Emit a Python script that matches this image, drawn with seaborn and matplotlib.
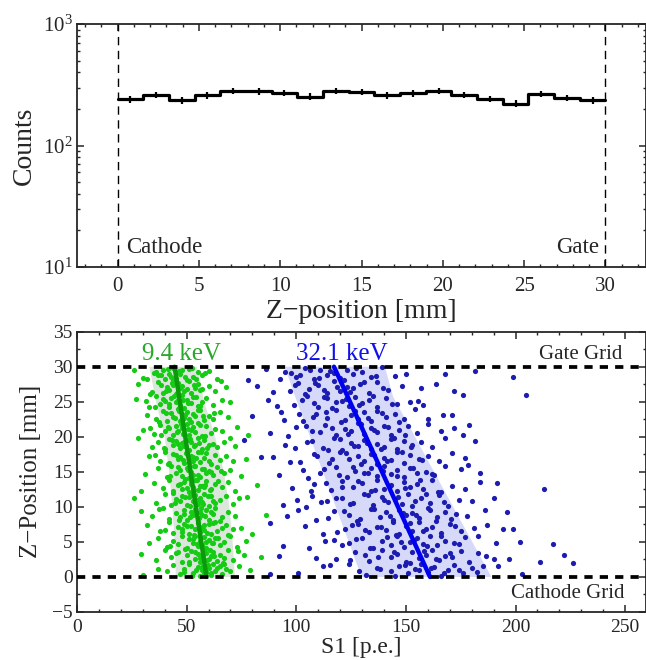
import numpy as np
import pandas as pd
import matplotlib
matplotlib.use("Agg")
import matplotlib.pyplot as plt
import seaborn as sns
from matplotlib.ticker import MultipleLocator, LogLocator, NullFormatter

# ---- top panel: counts per z bin (19 bins between cathode and gate) ----
z_edges = list(np.linspace(0, 30, 20))
z_centers = [(a + b) / 2 for a, b in zip(z_edges[:-1], z_edges[1:])]
counts = [240, 261, 236, 258, 280, 279, 270, 253, 280, 275,
          258, 268, 283, 261, 242, 221, 266, 246, 236]

# ---- bottom panel: S1 vs z for the two lines ----
green_s1 = [
    30, 37, 41, 44, 47, 49, 51, 53, 55, 56, 57, 58, 59, 60, 61, 62, 63, 65, 66, 68, 70, 74, 79,
    29, 36, 40, 43, 46, 48, 50, 52, 54, 55, 56, 57, 58, 59, 60, 61, 62, 64, 65, 67, 69, 71, 76, 84,
    33, 37, 41, 44, 46, 48, 50, 51, 53, 54, 55, 56, 57, 58, 59, 60, 62, 63, 65, 67, 70, 73, 77,
    32, 38, 42, 44, 46, 48, 49, 51, 52, 54, 55, 56, 57, 58, 60, 61, 62, 64, 66, 68, 71, 80,
    29, 34, 39, 42, 45, 47, 49, 50, 52, 53, 54, 55, 56, 57, 59, 60, 62, 63, 66, 69, 72, 86,
    26, 36, 40, 43, 45, 47, 48, 50, 51, 53, 54, 55, 56, 57, 58, 60, 61, 63, 65, 68, 71, 74,
    29, 35, 39, 42, 44, 46, 48, 49, 51, 52, 53, 54, 55, 57, 58, 59, 61, 63, 66, 69, 72, 82,
    31, 37, 41, 43, 45, 47, 48, 50, 51, 52, 53, 54, 56, 57, 59, 60, 62, 64, 67, 70, 75,
    33, 38, 40, 42, 44, 46, 47, 49, 50, 51, 52, 53, 55, 56, 58, 59, 61, 63, 65, 68, 71, 77,
    28, 34, 37, 40, 42, 44, 45, 47, 48, 49, 50, 51, 52, 54, 55, 57, 58, 60, 62, 64, 67, 72,
    30, 35, 38, 40, 42, 44, 45, 46, 48, 49, 50, 51, 53, 54, 55, 57, 59, 61, 63, 66, 73, 78,
    32, 36, 39, 41, 43, 44, 46, 47, 48, 49, 50, 52, 53, 54, 56, 58, 60, 62, 65, 69,
    27, 33, 36, 38, 40, 42, 43, 45, 46, 47, 48, 49, 50, 52, 53, 55, 57, 59, 62, 66, 70,
    28, 34, 37, 39, 41, 42, 44, 45, 46, 47, 48, 49, 51, 52, 54, 55, 57, 60, 63, 68,
    26, 32, 35, 37, 39, 40, 42, 43, 44, 45, 46, 47, 48, 50, 51, 53, 55, 57, 60, 64,
]
green_z = [
    0.3, 1.2, 0.8, 1.7, 0.4, 1.1, 1.9, 0.6, 1.4, 0.2, 1.0, 1.6, 0.7, 1.3, 0.5, 1.8, 0.9, 1.5, 0.4, 1.2, 0.8, 1.6, 1.0,
    3.3, 2.4, 3.8, 2.9, 3.5, 2.2, 3.1, 3.7, 2.6, 3.3, 2.1, 2.8, 3.9, 3.4, 2.5, 3.0, 3.6, 2.3, 3.2, 2.7, 3.8, 2.4, 3.1, 2.9,
    4.9, 5.6, 4.3, 5.2, 4.7, 5.8, 4.1, 5.4, 4.8, 5.9, 4.4, 5.1, 4.6, 5.7, 4.2, 5.3, 4.9, 5.5, 4.5, 5.0, 5.8, 4.3, 5.2,
    7.4, 6.6, 7.9, 6.3, 7.2, 6.8, 7.6, 6.1, 7.3, 6.9, 7.8, 6.4, 7.1, 6.7, 7.5, 6.2, 7.7, 6.5, 7.0, 7.4, 6.8, 6.1,
    9.4, 8.7, 9.8, 8.3, 9.1, 8.6, 9.6, 8.1, 9.3, 8.9, 9.7, 8.4, 9.2, 8.8, 9.5, 8.2, 9.0, 9.9, 8.5, 9.3, 8.7, 8.9,
    11.3, 10.6, 11.8, 10.3, 11.1, 10.8, 11.6, 10.2, 11.4, 10.9, 11.7, 10.4, 11.2, 10.7, 11.9, 10.1, 11.5, 10.6, 11.0, 11.6, 10.4, 11.2,
    12.2, 13.4, 12.7, 13.8, 12.3, 13.1, 12.6, 13.6, 12.1, 13.3, 12.8, 13.9, 12.4, 13.0, 12.9, 13.7, 12.5, 13.2, 12.8, 13.5, 12.2, 13.1,
    14.7, 15.5, 14.2, 15.8, 14.9, 15.2, 14.4, 15.6, 14.1, 15.0, 14.6, 15.9, 14.3, 15.4, 14.8, 15.1, 14.5, 15.7, 14.9, 15.3, 14.4,
    17.2, 16.5, 17.8, 16.3, 17.5, 16.8, 17.1, 16.2, 17.6, 16.9, 17.3, 16.6, 17.9, 16.4, 17.0, 17.7, 16.1, 17.4, 16.7, 17.2, 16.5, 16.9,
    19.9, 18.6, 19.3, 18.2, 19.7, 18.9, 19.4, 18.4, 19.1, 18.7, 19.6, 18.1, 19.2, 18.8, 19.8, 18.3, 19.5, 18.9, 19.0, 18.5, 19.3, 18.7,
    21.0, 20.4, 21.7, 20.8, 21.3, 20.2, 21.6, 20.9, 21.2, 20.5, 21.8, 20.3, 21.4, 20.7, 21.9, 20.1, 21.5, 20.6, 21.1, 20.8, 21.4, 20.3,
    23.1, 22.5, 23.7, 22.2, 23.4, 22.8, 23.9, 22.3, 23.2, 22.7, 23.6, 22.1, 23.3, 22.9, 23.8, 22.4, 23.0, 22.6, 23.5, 22.8,
    25.4, 24.3, 25.8, 24.7, 25.1, 24.2, 25.6, 24.9, 25.3, 24.5, 25.9, 24.1, 25.2, 24.8, 25.7, 24.4, 25.0, 25.5, 24.6, 25.2, 24.9,
    27.5, 26.4, 27.8, 26.2, 27.1, 26.7, 27.4, 26.1, 27.7, 26.9, 27.2, 26.5, 27.9, 26.3, 27.0, 27.6, 26.8, 27.3, 26.6, 27.1,
    29.6, 28.3, 29.1, 28.8, 29.5, 28.2, 29.0, 28.6, 29.8, 28.4, 29.3, 28.9, 29.5, 28.1, 29.7, 28.5, 29.2, 28.8, 29.4, 28.3,
]
# more green events in the dense core
green_s1_core = [
    52.5, 54.2, 56.8, 58.1, 59.7, 61.3, 63.9, 57.4, 48.6, 67.2,
    51.3, 53.6, 55.9, 57.8, 59.2, 60.7, 62.4, 45.2, 66.8, 73.5,
    49.2, 52.7, 54.9, 56.3, 57.5, 58.8, 61.4, 64.3, 42.6, 68.7,
    47.7, 50.3, 53.2, 55.1, 56.4, 57.7, 59.3, 62.8, 40.1, 74.6,
    46.3, 48.8, 51.4, 53.7, 55.5, 56.6, 58.2, 61.1, 65.4, 37.2,
    44.8, 49.4, 51.7, 52.6, 54.8, 55.7, 57.3, 59.6, 62.2, 77.5,
    43.6, 47.2, 50.3, 51.8, 53.5, 54.6, 56.2, 58.4, 60.7, 64.5,
    42.3, 46.1, 49.2, 50.6, 51.9, 53.4, 55.1, 57.8, 61.3, 65.6,
    41.6, 45.3, 48.4, 49.7, 51.4, 52.8, 54.3, 56.7, 60.2, 35.4,
    39.5, 43.4, 46.2, 48.6, 50.4, 51.7, 53.3, 55.6, 59.1, 69.7,
    38.2, 41.7, 45.4, 47.3, 48.5, 50.6, 52.2, 56.1, 58.4, 33.2,
    37.4, 40.6, 44.8, 46.3, 47.6, 49.3, 51.1, 55.2, 57.6, 62.7,
    35.6, 39.2, 41.8, 44.2, 46.7, 48.4, 50.6, 54.1, 56.3, 31.4,
    33.2, 38.1, 40.4, 43.3, 45.6, 47.2, 50.3, 53.4, 56.2, 65.5,
    30.3, 36.2, 38.5, 41.4, 43.6, 46.4, 49.1, 52.4, 54.3, 58.6,
]
green_z_core = [
    0.15, 0.95, 1.45, 0.55, 1.75, 0.25, 1.35, 1.05, 0.65, 1.85,
    2.15, 3.55, 2.75, 3.25, 2.45, 3.85, 2.95, 3.45, 2.05, 3.65,
    4.05, 5.35, 4.65, 5.75, 4.25, 5.05, 4.85, 5.55, 4.45, 5.95,
    6.45, 7.25, 6.05, 7.65, 6.85, 7.35, 6.25, 7.85, 6.65, 7.05,
    8.15, 9.05, 8.55, 9.45, 8.35, 9.85, 8.75, 9.25, 8.05, 9.65,
    10.55, 11.35, 10.15, 11.75, 10.95, 11.05, 10.45, 11.55, 10.85, 11.45,
    12.05, 13.25, 12.65, 13.55, 12.35, 13.85, 12.95, 13.15, 12.45, 13.75,
    14.35, 15.65, 14.05, 15.25, 14.75, 15.85, 14.55, 15.45, 14.95, 15.15,
    16.15, 17.45, 16.75, 17.65, 16.35, 17.15, 16.95, 17.85, 16.55, 17.35,
    18.35, 19.55, 18.95, 19.25, 18.15, 19.75, 18.65, 19.05, 18.45, 19.85,
    20.25, 21.45, 20.65, 21.85, 20.35, 21.15, 20.95, 21.65, 20.05, 21.25,
    22.05, 23.35, 22.75, 23.65, 22.35, 23.05, 22.55, 23.85, 22.95, 23.45,
    24.25, 25.45, 24.65, 25.85, 24.05, 25.25, 24.85, 25.65, 24.45, 25.05,
    26.05, 27.35, 26.55, 27.65, 26.25, 27.05, 26.85, 27.45, 26.65, 27.95,
    28.35, 29.25, 28.75, 29.65, 28.05, 29.45, 28.55, 29.85, 28.25, 29.05,
]

blue_s1 = [
    88, 101, 112, 124, 132, 138, 143, 147, 151, 154, 157, 160, 163, 166, 169, 172, 176, 180, 185, 192, 203, 226,
    92, 118, 127, 133, 139, 143, 146, 150, 153, 156, 159, 162, 165, 168, 171, 175, 179, 183, 190, 197, 211, 222,
    94, 106, 117, 124, 130, 135, 139, 143, 146, 149, 152, 155, 158, 161, 164, 168, 172, 177, 183, 191, 202, 217,
    88, 104, 112, 122, 128, 133, 137, 141, 144, 147, 150, 153, 156, 159, 162, 166, 170, 175, 181, 187, 199,
    96, 101, 109, 117, 124, 129, 134, 138, 141, 144, 147, 150, 153, 156, 160, 164, 168, 173, 178, 186, 196,
    94, 107, 114, 121, 126, 131, 135, 139, 142, 145, 148, 151, 154, 157, 161, 165, 169, 174, 180, 190, 213,
    98, 108, 116, 121, 126, 130, 134, 137, 140, 143, 146, 149, 152, 155, 158, 162, 166, 171, 177, 184,
    92, 103, 111, 118, 123, 127, 131, 134, 137, 140, 143, 146, 149, 152, 155, 159, 163, 168, 175, 184,
    84, 97, 108, 115, 120, 124, 128, 131, 134, 137, 140, 143, 146, 149, 152, 156, 160, 165, 171, 177,
    76, 95, 105, 112, 117, 121, 125, 128, 131, 134, 137, 140, 143, 146, 149, 153, 157, 162, 168, 176,
    88, 100, 107, 113, 118, 122, 125, 128, 131, 134, 137, 140, 143, 147, 151, 155, 160, 166, 172,
    80, 93, 103, 109, 114, 118, 122, 125, 128, 131, 134, 137, 141, 145, 149, 154, 160, 167,
    87, 99, 105, 110, 114, 118, 121, 124, 127, 130, 133, 137, 141, 146, 152, 158, 176, 205,
    82, 97, 101, 106, 110, 114, 117, 120, 123, 126, 129, 133, 137, 142, 148, 157, 172,
    78, 86, 95, 100, 104, 108, 111, 114, 117, 120, 123, 126, 130, 134, 139, 145, 150, 168, 199,
]
blue_z = [
    0.4, 0.6, 1.5, 1.8, 0.3, 1.2, 0.8, 1.6, 0.5, 1.1, 1.9, 0.7, 1.4, 0.2, 1.0, 1.7, 0.6, 1.3, 1.5, 1.5, 0.4, 2.0,
    3.0, 2.6, 3.5, 2.3, 3.8, 2.9, 3.3, 2.1, 3.6, 2.7, 3.2, 3.9, 2.4, 3.0, 2.8, 3.7, 2.2, 3.4, 2.6, 2.5, 2.1, 3.2,
    4.4, 4.1, 5.3, 4.8, 5.6, 4.2, 5.1, 4.6, 5.8, 4.3, 5.0, 5.5, 4.7, 5.9, 4.5, 5.2, 4.9, 5.7, 5.8, 4.8, 5.0, 4.7,
    7.7, 7.3, 6.2, 6.9, 7.5, 6.4, 7.1, 6.7, 7.8, 6.1, 7.3, 6.6, 7.9, 6.8, 7.2, 6.3, 7.6, 6.5, 7.0, 7.4, 6.9,
    8.7, 9.6, 8.2, 9.4, 8.9, 8.3, 9.7, 8.6, 9.2, 8.1, 9.5, 8.8, 9.1, 8.4, 9.8, 8.5, 9.3, 9.0, 8.7, 9.6, 9.2,
    10.3, 11.5, 10.8, 11.2, 10.5, 11.8, 10.2, 11.4, 10.7, 11.1, 10.4, 11.9, 10.9, 11.3, 10.6, 11.7, 10.1, 11.0, 10.8, 11.3, 12.5,
    12.7, 13.2, 12.4, 13.7, 12.9, 13.4, 12.2, 13.8, 12.6, 13.1, 12.3, 13.6, 12.8, 13.3, 12.5, 13.9, 12.1, 13.0, 12.6, 13.5,
    14.6, 15.3, 14.9, 15.7, 14.2, 15.1, 14.8, 15.5, 14.4, 15.9, 14.7, 15.2, 14.3, 15.6, 14.9, 15.0, 14.5, 15.8, 15.4, 14.8,
    17.1, 16.4, 17.6, 16.2, 17.8, 16.9, 17.3, 16.6, 17.5, 16.1, 17.0, 16.7, 17.9, 16.3, 17.4, 16.8, 17.2, 16.5, 17.7, 17.0,
    19.6, 18.8, 19.3, 18.4, 19.8, 18.1, 19.1, 18.7, 19.5, 18.3, 19.0, 18.6, 19.7, 18.2, 19.4, 18.9, 19.2, 18.5, 19.9, 20.2,
    20.6, 21.4, 20.9, 21.7, 20.3, 21.1, 20.8, 21.9, 20.4, 21.3, 20.7, 21.6, 20.2, 21.0, 21.5, 20.5, 21.8, 20.9, 21.2,
    22.9, 23.6, 22.3, 23.2, 22.7, 23.8, 22.4, 23.1, 22.6, 23.5, 22.2, 23.7, 22.8, 23.3, 22.5, 23.9, 22.6, 23.1,
    25.3, 24.6, 25.8, 24.2, 25.5, 24.9, 25.1, 24.4, 25.7, 24.8, 25.2, 24.3, 25.6, 24.7, 25.0, 24.5, 25.9, 26.0,
    27.2, 26.5, 27.7, 26.8, 27.4, 26.2, 27.9, 26.6, 27.1, 26.9, 27.5, 26.3, 27.8, 26.7, 27.3, 27.0, 26.6,
    28.1, 29.7, 29.3, 28.6, 29.8, 28.3, 29.5, 28.8, 29.1, 28.4, 29.6, 28.9, 29.2, 28.5, 29.9, 28.7, 29.0, 29.0, 28.6,
]
# more blue events in the dense core
blue_s1_core = [
    128.4, 136.7, 145.2, 149.6, 155.8, 161.3, 167.4, 174.1, 182.6, 115.3,
    124.5, 131.2, 137.4, 144.8, 151.7, 158.3, 163.6, 170.2, 186.7, 108.8,
    120.8, 127.3, 133.6, 141.2, 147.9, 153.5, 159.4, 166.2, 174.3, 113.2,
    118.7, 125.2, 131.5, 138.6, 145.3, 151.8, 157.6, 163.9, 172.6, 194.2,
    114.3, 121.6, 127.8, 135.3, 142.7, 148.6, 154.8, 161.2, 170.5, 104.6,
    111.4, 118.3, 124.6, 132.9, 140.1, 146.3, 152.7, 159.2, 167.5, 100.2,
    106.8, 113.5, 120.7, 128.3, 135.8, 142.6, 149.5, 156.3, 164.8, 191.4,
    105.2, 112.6, 119.4, 125.8, 132.6, 139.7, 145.8, 153.3, 161.7, 178.4,
    101.7, 109.6, 116.3, 122.7, 129.4, 135.5, 141.6, 148.3, 157.2, 89.5,
    99.3, 107.4, 114.6, 119.8, 126.5, 132.3, 138.5, 144.7, 152.1, 181.3,
    96.2, 104.3, 110.8, 116.2, 123.4, 129.6, 135.3, 141.7, 149.5, 178.6,
    94.6, 101.2, 107.7, 113.4, 120.6, 126.8, 132.5, 139.3, 146.8, 171.2,
    91.3, 102.4, 108.2, 112.6, 116.5, 122.7, 128.4, 135.2, 143.6, 155.4,
    89.2, 99.6, 103.8, 108.5, 112.7, 118.6, 124.3, 130.7, 139.6, 163.5,
    92.7, 97.5, 101.6, 106.2, 110.4, 115.6, 121.8, 127.4, 136.2, 181.4,
]
blue_z_core = [
    0.85, 1.35, 0.15, 1.75, 0.95, 1.25, 0.55, 1.05, 0.75, 1.65,
    2.35, 3.15, 2.85, 3.55, 2.05, 3.75, 2.55, 3.35, 3.05, 2.75,
    4.55, 5.45, 4.15, 5.65, 4.95, 5.25, 4.35, 5.85, 4.75, 5.15,
    6.35, 7.45, 6.75, 7.15, 6.05, 7.65, 6.55, 7.95, 7.25, 6.85,
    8.45, 9.35, 8.05, 9.75, 8.65, 9.15, 8.85, 9.55, 8.25, 9.95,
    10.65, 11.25, 10.35, 11.65, 10.95, 11.45, 10.15, 11.85, 10.75, 11.05,
    12.25, 13.45, 12.85, 13.65, 12.45, 13.05, 12.65, 13.85, 12.15, 13.35,
    14.15, 15.35, 14.55, 15.75, 14.85, 15.15, 14.35, 15.55, 14.65, 15.95,
    16.35, 17.25, 16.85, 17.65, 16.15, 17.45, 16.55, 17.85, 16.75, 17.05,
    18.45, 19.35, 18.05, 19.65, 18.75, 19.15, 18.25, 19.85, 18.55, 19.45,
    20.15, 21.55, 20.75, 21.25, 20.45, 21.85, 20.95, 21.35, 20.25, 21.65,
    22.45, 23.25, 22.85, 23.55, 22.15, 23.75, 22.65, 23.45, 22.05, 23.05,
    24.35, 25.25, 24.85, 25.65, 24.15, 25.45, 24.55, 25.85, 24.75, 25.05,
    26.45, 27.35, 26.05, 27.65, 26.75, 27.15, 26.35, 27.85, 26.95, 27.55,
    28.25, 29.15, 28.85, 29.55, 28.45, 29.35, 28.05, 29.75, 28.65, 29.45,
]

# fitted S1(z) lines and +-1 sigma bands
fit_z = [0, 30]
green_fit_s1 = [59.1, 44.5]
blue_fit_s1 = [161.0, 117.2]
green_band_s1 = [33.0, 36.0, 40.0, 42.0, 43.5, 44.5, 45.1, 72.0, 71.0, 69.5, 67.0, 63.0, 58.0, 54.6]
green_band_z = [30, 25, 20, 15, 10, 5, 0, 0, 5, 10, 15, 20, 25, 30]
blue_band_s1 = [94.8, 98.0, 129.8, 189.0, 144.2, 140.4]
blue_band_z = [30, 27, 0, 0, 25.7, 30]

hist_df = pd.DataFrame({"z": z_centers, "counts": counts})
green_df = pd.DataFrame({"s1": green_s1 + green_s1_core, "z": green_z + green_z_core})
blue_df = pd.DataFrame({"s1": blue_s1 + blue_s1_core, "z": blue_z + blue_z_core})

sns.set_style("ticks")
plt.rcParams["font.family"] = ["Liberation Serif", "DejaVu Serif"]
plt.rcParams["mathtext.fontset"] = "custom"
plt.rcParams["mathtext.rm"] = "Liberation Serif"
plt.rcParams["mathtext.it"] = "Liberation Serif:italic"
plt.rcParams["axes.linewidth"] = 1.3

fig = plt.figure(figsize=(6.46, 6.60), dpi=100)
ax1 = fig.add_axes([77 / 646, 1 - 267 / 660, 569 / 646, 243 / 660])
ax2 = fig.add_axes([77 / 646, 1 - 612 / 660, 569 / 646, 280.3 / 660])

# top: histogram
sns.histplot(data=hist_df, x="z", weights="counts", bins=z_edges, element="step", fill=False,
             color="black", linewidth=2.3, ax=ax1)
ax1.errorbar(z_centers, counts, yerr=np.sqrt(counts), fmt="none", ecolor="black", elinewidth=1.6)
ax1.set_yscale("log")
ax1.set_ylim(10, 1000)
ax1.set_xlim(-2.5, 32.5)
for zz in (0, 30):
    ax1.axvline(zz, color="black", linewidth=1.0, linestyle=(0, (6, 4)))
ax1.text(0.55, 0.058, "Cathode", transform=ax1.get_xaxis_transform(), fontsize=16.5,
         ha="left", va="baseline")
ax1.text(29.6, 0.058, "Gate", transform=ax1.get_xaxis_transform(), fontsize=16.5,
         ha="right", va="baseline")
ax1.set_xlabel("Z\u2212position [mm]", fontsize=20, labelpad=2)
ax1.set_ylabel("Counts", fontsize=20)
ax1.yaxis.set_label_coords(-0.07, 0.5)
ax1.xaxis.set_major_locator(MultipleLocator(5))
ax1.xaxis.set_minor_locator(MultipleLocator(1))
ax1.yaxis.set_major_locator(LogLocator(base=10))
ax1.yaxis.set_minor_locator(LogLocator(base=10, subs=np.arange(2, 10)))
ax1.yaxis.set_minor_formatter(NullFormatter())
ax1.tick_params(which="both", direction="in", top=True, right=True, labelsize=15)
ax1.tick_params(which="major", length=5, width=1.1)
ax1.tick_params(which="minor", length=2.5, width=1.0)
ax1.tick_params(axis="x", pad=7)
ax1.tick_params(axis="y", pad=3)

# bottom: S1 vs z
ax2.fill(green_band_s1, green_band_z, color="#dce6dc", linewidth=0, zorder=1)
ax2.fill(blue_band_s1, blue_band_z, color="#d6daf8", linewidth=0, zorder=1)
sns.scatterplot(data=green_df, x="s1", y="z", color="#14cc14", s=14, linewidth=0, ax=ax2, zorder=2)
sns.scatterplot(data=blue_df, x="s1", y="z", color="#1c1cb0", s=14, linewidth=0, ax=ax2, zorder=2)
sns.lineplot(x=green_fit_s1, y=fit_z, color="#0a9a0a", linewidth=3.2, sort=False, ax=ax2, zorder=3)
sns.lineplot(x=blue_fit_s1, y=fit_z, color="#0000f0", linewidth=3.2, sort=False, ax=ax2, zorder=3)
for zz in (0, 30):
    ax2.axhline(zz, color="black", linewidth=2.7, linestyle=(0, (2.2, 1.9)), zorder=4)
ax2.text(47.7, 30.9, "9.4 keV", color="#2aa82a", fontsize=18, ha="center", va="baseline")
ax2.text(120.8, 30.9, "32.1 keV", color="#1010ee", fontsize=18, ha="center", va="baseline")
ax2.text(248.7, 31.06, "Gate Grid", fontsize=15, ha="right", va="baseline")
ax2.text(249.8, -3.04, "Cathode Grid", fontsize=15, ha="right", va="baseline")
ax2.set_xlim(0, 259.5)
ax2.set_ylim(-5, 35)
ax2.set_xlabel("S1 [p.e.]", fontsize=17, labelpad=0.5)
ax2.set_ylabel("Z\u2212Position [mm]", fontsize=18)
ax2.yaxis.set_label_coords(-0.062, 0.5)
ax2.xaxis.set_major_locator(MultipleLocator(50))
ax2.xaxis.set_minor_locator(MultipleLocator(10))
ax2.yaxis.set_major_locator(MultipleLocator(5))
ax2.yaxis.set_minor_locator(MultipleLocator(2.5))
ax2.tick_params(which="both", direction="in", top=True, right=True, labelsize=14)
ax2.tick_params(which="major", length=5, width=1.1)
ax2.tick_params(which="minor", length=2.5, width=1.0)
ax2.tick_params(axis="x", pad=5)
ax2.tick_params(axis="y", pad=3)

fig.savefig("out.png", dpi=100)
